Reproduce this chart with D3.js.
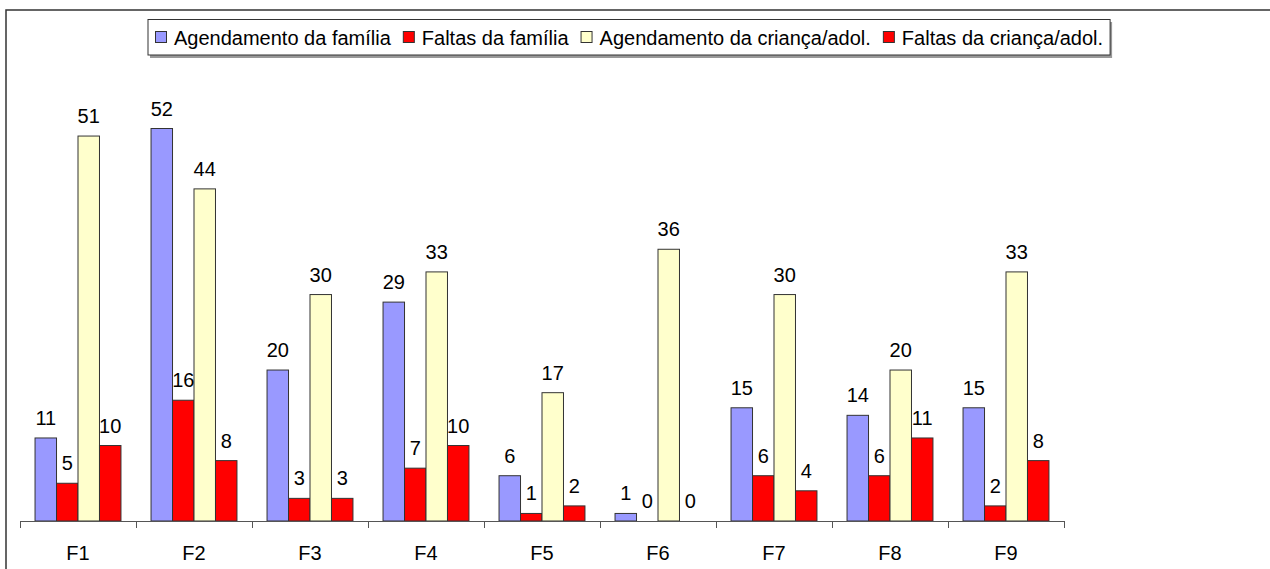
<!DOCTYPE html>
<html>
<head>
<meta charset="utf-8">
<script src="https://cdn.jsdelivr.net/npm/d3@7"></script>
<style>
  body { margin: 0; background: #fff; }
  text { font-family: "Liberation Sans", Arial, sans-serif; fill: #000; }
</style>
</head>
<body>
<div id="chart"></div>
<script>

var categories = ["F1", "F2", "F3", "F4", "F5", "F6", "F7", "F8", "F9"];
var seriesNames = ["Agendamento da família", "Faltas da família",
                   "Agendamento da criança/adol.", "Faltas da criança/adol."];
var agendFamilia  = [11, 52, 20, 29, 6, 1, 15, 14, 15];
var faltasFamilia = [5, 16, 3, 7, 1, 0, 6, 6, 2];
var agendCrianca  = [51, 44, 30, 33, 17, 36, 30, 20, 33];
var faltasCrianca = [10, 8, 3, 10, 2, 0, 4, 11, 8];
var colors = ["#9999FF", "#FF0000", "#FFFFCC", "#FF0000"];

var seriesValues = [agendFamilia, faltasFamilia, agendCrianca, faltasCrianca];

var W = 1270, H = 569;
var left = 20, right = 1064, baseY = 521;
var fontSize = "20px";

var svg = d3.select("#chart")
  .append("svg")
    .attr("width", W)
    .attr("height", H);

// outer chart border (runs past the window on right / bottom)
svg.append("rect")
    .attr("x", 6).attr("y", 10)
    .attr("width", 1300).attr("height", 600)
    .attr("fill", "none")
    .attr("stroke", "#333")
    .attr("stroke-width", 1.5);

var x0 = d3.scaleBand()
  .domain(categories)
  .range([left, right])
  .paddingInner(0);

var x1 = d3.scaleBand()
  .domain(d3.range(seriesNames.length))
  .range([0, x0.bandwidth()])
  .paddingInner(0)
  .paddingOuter(0.7);

var y = d3.scaleLinear()
  .domain([0, 52])
  .range([baseY, 128.5]);

// rows: one per category per series
var rows = [];
categories.forEach(function(c, i) {
  seriesValues.forEach(function(vals, s) {
    rows.push({cat: c, s: s, v: vals[i]});
  });
});

svg.append("g").selectAll("rect")
  .data(rows.filter(function(d) { return d.v > 0; }))
  .enter().append("rect")
    .attr("x", function(d) { return x0(d.cat) + x1(d.s); })
    .attr("y", function(d) { return y(d.v); })
    .attr("width", x1.bandwidth())
    .attr("height", function(d) { return baseY - y(d.v); })
    .attr("fill", function(d) { return colors[d.s]; })
    .attr("stroke", "#333")
    .attr("stroke-width", 1);

svg.append("g").selectAll("text")
  .data(rows)
  .enter().append("text")
    .attr("x", function(d) { return x0(d.cat) + x1(d.s) + x1.bandwidth() / 2; })
    .attr("y", function(d) { return y(d.v) - 13; })
    .attr("text-anchor", "middle")
    .style("font-size", fontSize)
    .text(function(d) { return d.v; });

// x axis with ticks at the category boundaries
var xb = d3.scaleLinear().domain([0, categories.length]).range([left, right]);
var axis = svg.append("g")
    .attr("transform", "translate(0," + baseY + ")")
    .call(d3.axisBottom(xb)
      .tickValues(d3.range(categories.length + 1))
      .tickFormat("")
      .tickSize(7)
      .tickSizeOuter(0));
axis.selectAll("path, line").attr("stroke", "#555");

svg.append("g").selectAll("text")
  .data(categories)
  .enter().append("text")
    .attr("x", function(d) { return x0(d) + x0.bandwidth() / 2; })
    .attr("y", 560)
    .attr("text-anchor", "middle")
    .style("font-size", fontSize)
    .text(function(d) { return d; });

// legend
var lg = svg.append("g");
var lgShadow = lg.append("rect")
    .attr("x", 150).attr("y", 22)
    .attr("height", 36)
    .attr("fill", "#999");
var lgBox = lg.append("rect")
    .attr("x", 148).attr("y", 19.5)
    .attr("height", 35.5)
    .attr("fill", "#fff")
    .attr("stroke", "#333")
    .attr("stroke-width", 1);

var cx = 155;
seriesNames.forEach(function(name, i) {
  lg.append("rect")
    .attr("x", cx + 0.5).attr("y", 31.5)
    .attr("width", 11).attr("height", 11)
    .attr("fill", colors[i])
    .attr("stroke", "#333");
  var t = lg.append("text")
    .attr("x", cx + 19).attr("y", 44.5)
    .style("font-size", fontSize)
    .text(name);
  cx += 19 + t.node().getComputedTextLength() + 12;
});
lgBox.attr("width", cx - 12 + 7 - 148);
lgShadow.attr("width", cx - 12 + 7 - 148);

</script>
</body>
</html>
